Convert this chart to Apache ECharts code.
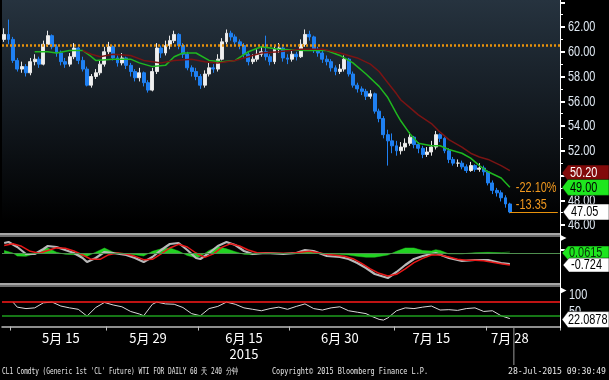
<!DOCTYPE html>
<html><head><meta charset="utf-8">
<script src="https://cdn.jsdelivr.net/npm/echarts@6/dist/echarts.min.js"></script>
<style>html,body{margin:0;padding:0;background:#000;}#c{width:609px;height:380px;}</style>
</head><body><div id="c"></div>
<script>
// ---------- DATA ----------
const SLOT_COUNT = 128; // half-day slots on the time axis
const dateLabels = ['5月 15','5月 29','6月 15','6月 30','7月 15','7月 28'];
const dateLabelSlots = [13,33,55,77,98,116];
const periodTickSlots = [2,24,45,66,90,111];
const yearLabel = '2015';
const yearSlot = 55;
const priceTickLabels = [46,48,50,52,54,56,58,60,62];

const firstOpen = 61.0;
const closes = [61.4,61.0,59.3,58.6,58.8,58.3,59.2,59.4,59.0,60.6,
 61.3,60.4,59.9,59.2,59.0,59.6,60.3,59.3,58.6,57.3,
 58.0,58.3,59.0,60.0,60.4,59.5,59.1,59.5,58.9,58.4,
 57.9,58.3,57.5,56.9,58.4,60.3,59.9,60.5,60.9,61.4,
 60.5,59.8,58.7,58.4,58.0,57.3,58.2,58.7,58.6,59.4,
 60.8,61.5,61.2,60.8,60.5,59.8,59.2,59.4,59.8,60.0,
 59.6,59.2,60.2,60.3,59.5,59.4,59.8,59.6,60.6,61.4,
 61.2,60.2,59.9,59.4,59.2,58.7,58.4,58.6,59.4,58.2,
 57.3,57.0,56.8,56.4,56.6,55.2,54.6,53.3,52.8,52.4,
 52.0,52.3,52.6,53.1,52.5,52.2,51.7,51.9,52.3,53.3,
 53.0,52.0,51.3,51.0,51.0,50.7,50.4,50.8,50.5,50.6,
 50.3,49.4,48.8,48.6,48.2,47.7,47.05];
const highs = [61.9,62.6,61.2,59.5,59.2,59.0,59.5,59.8,59.6,60.9,
 61.7,61.4,60.6,60.1,59.5,59.9,60.7,60.4,59.6,58.8,
 58.2,58.6,59.3,60.4,60.8,60.5,59.7,59.9,59.6,59.1,
 58.6,58.7,58.4,57.7,58.7,60.7,60.5,60.9,61.3,61.7,
 61.5,60.7,60.0,58.9,58.7,58.2,58.5,59.1,59.0,59.8,
 61.1,61.8,61.7,61.4,61.0,60.7,60.0,59.8,60.2,60.4,
 61.3,59.8,60.5,60.7,60.4,59.8,60.1,60.0,61.0,61.8,
 61.7,61.3,60.4,60.1,59.7,59.4,58.9,59.0,59.7,59.5,
 58.4,57.5,57.2,57.0,56.9,56.7,55.4,54.8,53.7,53.4,
 52.8,52.7,53.0,53.5,53.2,52.7,52.4,52.3,52.8,53.6,
 53.4,53.1,52.2,51.5,51.3,51.2,50.9,51.1,50.9,51.0,
 50.8,50.4,49.6,49.0,48.8,48.4,47.8];
const lows = [60.8,60.6,59.1,58.4,58.3,58.0,58.1,58.9,58.7,58.9,
 60.4,60.2,59.6,58.9,58.7,58.8,59.4,59.0,58.4,57.2,
 57.1,57.8,58.1,58.8,59.8,59.3,58.8,58.9,58.6,58.0,
 57.6,57.6,57.2,56.7,56.8,58.2,59.5,59.7,60.2,60.7,
 60.2,59.5,58.5,58.0,57.7,57.0,57.1,58.0,58.3,58.4,
 59.3,60.6,60.9,60.5,60.2,59.5,58.9,59.0,59.2,59.6,
 59.3,58.9,59.0,59.9,59.2,59.0,59.2,59.3,59.5,60.4,
 60.9,59.9,59.6,59.1,58.9,58.4,58.1,58.2,58.4,58.0,
 57.1,56.7,56.5,56.1,56.2,55.0,54.3,53.0,50.8,51.8,
 51.6,51.7,52.0,52.4,52.2,51.8,51.4,51.5,51.6,52.1,
 52.7,51.8,51.0,50.8,50.7,50.5,50.2,50.3,50.3,50.3,
 50.0,49.2,48.5,48.3,47.9,47.4,46.95];

// moving averages: [slot, value]
const maShort = [[7,60.0],[10,60.0],[12,59.9],[15,60.1],[18,60.1],[20,59.6],[21,59.3],[25,59.4],[29,59.4],[31,59.1],[34,58.8],[37,58.9],[39,59.6],[41,59.9],[44,59.9],[47,59.3],[50,59.2],[53,59.3],[56,60.0],[59,60.4],[63,60.2],[69,60.1],[74,60.1],[77,59.7],[80,59.1],[83,58.2],[86,57.2],[88,56.3],[90,55.0],[91,54.4],[93,53.4],[95,52.6],[98,52.4],[100,52.4],[102,52.1],[105,51.8],[107,51.4],[109,50.8],[111,50.3],[114,49.8],[116,49.05]];
const maLong = [[18,60.1],[20,59.8],[22,59.6],[25,59.8],[29,59.7],[32,59.3],[36,59.1],[39,59.3],[43,59.4],[46,59.2],[49,59.1],[53,59.3],[56,59.6],[59,59.9],[63,60.0],[68,60.2],[73,60.2],[77,59.9],[81,59.5],[84,59.0],[86,58.4],[88,57.5],[90,56.6],[91,56.1],[93,55.5],[95,54.9],[98,54.2],[100,53.5],[102,52.9],[105,52.3],[107,51.8],[109,51.5],[111,51.3],[114,50.8],[116,50.4]];
const refLevel = 60.54;

// MACD panel: [slot, value]
const macdLine = [[0,0.60],[1,0.66],[3,0.36],[5,-0.06],[7,-0.06],[9,0.24],[10,0.42],[12,0.36],[14,0.18],[16,0.0],[18,-0.30],[19,-0.54],[21,-0.30],[23,0.06],[25,0.0],[28,-0.12],[30,-0.30],[32,-0.54],[34,-0.24],[36,0.18],[38,0.54],[40,0.60],[42,0.18],[44,-0.30],[45,-0.36],[47,0.0],[49,0.42],[51,0.66],[53,0.48],[55,0.12],[57,-0.06],[60,0.0],[64,-0.06],[67,0.0],[69,0.18],[71,0.12],[74,-0.18],[77,-0.24],[79,-0.36],[81,-0.60],[83,-0.90],[85,-1.26],[88,-1.50],[90,-1.14],[92,-0.72],[94,-0.36],[96,-0.18],[99,0.0],[102,-0.30],[105,-0.48],[108,-0.42],[111,-0.42],[114,-0.60],[116,-0.66]];
const signalLine = [[0,0.45],[2,0.55],[4,0.40],[6,0.10],[8,-0.02],[10,0.15],[12,0.32],[14,0.28],[16,0.12],[18,-0.12],[20,-0.38],[22,-0.38],[24,-0.10],[26,0.0],[28,-0.06],[30,-0.20],[32,-0.40],[34,-0.38],[36,-0.05],[38,0.30],[40,0.52],[42,0.36],[44,0.0],[46,-0.26],[48,-0.05],[50,0.35],[52,0.56],[54,0.42],[56,0.18],[58,0.02],[62,-0.02],[66,-0.02],[70,0.10],[74,-0.08],[78,-0.20],[80,-0.34],[82,-0.62],[84,-0.95],[86,-1.22],[88,-1.38],[90,-1.28],[92,-0.95],[94,-0.58],[96,-0.32],[98,-0.12],[100,-0.12],[102,-0.24],[104,-0.38],[106,-0.44],[108,-0.44],[110,-0.46],[112,-0.55],[114,-0.64],[116,-0.724]];
const macdHist = [[0,0.15],[2,0.0],[3,-0.18],[5,-0.20],[7,-0.05],[9,0.25],[10,0.30],[12,0.05],[14,-0.08],[16,-0.10],[18,-0.18],[19,-0.20],[21,0.05],[23,0.30],[25,0.05],[28,-0.05],[30,-0.10],[32,-0.18],[34,0.10],[36,0.25],[38,0.30],[40,0.12],[42,-0.15],[44,-0.28],[45,-0.20],[47,0.15],[49,0.38],[51,0.25],[53,0.08],[55,-0.08],[57,-0.10],[60,0.02],[64,-0.03],[67,0.02],[69,0.10],[71,0.05],[74,-0.06],[77,-0.08],[79,-0.12],[81,-0.20],[83,-0.25],[85,-0.25],[88,-0.12],[90,0.10],[92,0.30],[94,0.30],[96,0.15],[98,0.12],[99,0.20],[100,0.15],[102,-0.05],[105,-0.05],[108,0.02],[111,0.04],[114,0.02],[116,0.06]];

// RSI panel: [slot, value]
const rsiLine = [[2,68],[3,54],[5,50],[7,52],[9,66],[11,68],[13,57],[15,52],[17,48],[19,29],[21,53],[23,67],[25,60],[27,55],[29,42],[31,35],[32,30],[34,62],[35,68],[37,63],[39,62],[41,53],[43,36],[45,30],[47,50],[49,56],[51,68],[53,62],[55,52],[57,48],[59,44],[61,50],[63,54],[65,48],[67,56],[69,63],[71,50],[73,46],[75,52],[77,55],[79,44],[81,40],[83,36],[84,30],[86,20],[87,18],[88,24],[90,44],[92,52],[94,50],[96,54],[98,57],[100,46],[102,47],[104,45],[106,50],[108,52],[110,42],[112,44],[114,30],[116,22.09]];
const rsiUpper = 70, rsiLower = 30;

// value boxes at the right
const lastPrice = 47.05, maLongLabel = 50.20, maShortLabel = 49.00;
const pctChange = '-22.10%', netChange = '-13.35';
const histLabel = '0.0615', macdLabel = -0.724;
const rsiLabel = '22.0878', rsiLast = 22.09;
const footerLeft = "CL1 Comdty (Generic 1st 'CL' Future) WTI FOR DAILY 60 天 240 分钟";
const footerMid = 'Copyright© 2015 Bloomberg Finance L.P.';
const footerRight = '28-Jul-2015 09:30:49';

// ---------- CHART ----------
const cats = Array.from({length: SLOT_COUNT}, (_, i) => String(i));
const SANS = '"Liberation Sans",Arial,sans-serif';
const NX = 0.78; // horizontal squeeze for the narrow Bloomberg digits
const candleData = closes.map((c, i) => [i === 0 ? firstOpen : closes[i - 1], c, lows[i], highs[i]]);

const chart = echarts.init(document.getElementById('c'));
const hidden = {show:false};
const option = {
  backgroundColor: '#000',
  animation: false,
  grid: [
    {left: 2, right: 49, top: 2.25, height: 247.5},
    {left: 2, right: 49, top: 237, height: 46},
    {left: 2, right: 49, top: 287, height: 41}
  ],
  xAxis: [
    {type:'category', gridIndex:0, data:cats, boundaryGap:true, axisLine:hidden, axisTick:hidden, axisLabel:hidden, splitLine:hidden},
    {type:'category', gridIndex:1, data:cats, boundaryGap:true, axisLine:hidden, axisTick:hidden, axisLabel:hidden, splitLine:hidden},
    {type:'category', gridIndex:2, data:cats, boundaryGap:true,
      axisLine:{show:true, lineStyle:{color:'#bdbdbd', width:1.5}},
      axisTick:{show:true, length:4, interval:(i) => periodTickSlots.includes(i), lineStyle:{color:'#bdbdbd'}},
      axisLabel:{show:true, interval:(i) => dateLabelSlots.includes(i),
        formatter:(v) => { const k = dateLabelSlots.indexOf(Number(v)); return k >= 0 ? dateLabels[k] : ''; },
        color:'#ffffff', fontSize:13, fontFamily:'"Noto Sans CJK SC",sans-serif', margin:4},
      splitLine:hidden}
  ],
  yAxis: [
    {type:'value', gridIndex:0, position:'right', min:44, max:64, interval:2,
      axisLine:hidden, splitLine:hidden, axisLabel:hidden,
      axisTick:{show:true, length:5, lineStyle:{color:'#ffffff', width:2}},
      minorTick:{show:true, splitNumber:2, length:3, lineStyle:{color:'#ffffff'}}},
    {type:'value', gridIndex:1, position:'right', min:-1.8, max:0.96,
      axisLine:hidden, axisTick:hidden, axisLabel:hidden, splitLine:hidden},
    {type:'value', gridIndex:2, position:'right', min:-4, max:110,
      axisLine:hidden, axisTick:hidden, axisLabel:hidden, splitLine:hidden}
  ],
  series: [
    {type:'candlestick', xAxisIndex:0, yAxisIndex:0, data:candleData, barWidth:3.4,
      itemStyle:{color:'#f0f0f0', color0:'#1f80f2', borderColor:'#e6e6e6', borderColor0:'#1f80f2', borderWidth:1},
      markLine:{silent:true, symbol:'none', label:hidden, animation:false,
        data:[
          {yAxis: refLevel, lineStyle:{color:'#e8920c', width:2.5, type:[2,2]}},
          [{coord:[String(closes.length - 1), lastPrice], lineStyle:{color:'#e8920c', width:1, type:'solid'}},
           {coord:[String(SLOT_COUNT - 1), lastPrice]}]
        ]}},
    {type:'line', xAxisIndex:0, yAxisIndex:0, data:maShort, showSymbol:false, lineStyle:{color:'#1fb81f', width:1.5}, z:3},
    {type:'line', xAxisIndex:0, yAxisIndex:0, data:maLong, showSymbol:false, lineStyle:{color:'#7a1414', width:1.5}, z:3},
    {type:'line', xAxisIndex:1, yAxisIndex:1, data:macdHist, showSymbol:false,
      lineStyle:{color:'#22cc22', width:0.5}, areaStyle:{color:'#22d222', opacity:1},
      markLine:{silent:true, symbol:'none', label:hidden, data:[{yAxis:0}], lineStyle:{color:'#4f8f4f', width:1, type:'solid'}}},
    {type:'line', xAxisIndex:1, yAxisIndex:1, data:macdLine, showSymbol:false, lineStyle:{color:'#b8b8b8', width:2.2}},
    {type:'line', xAxisIndex:1, yAxisIndex:1, data:signalLine, showSymbol:false, lineStyle:{color:'#e81818', width:1.5}},
    {type:'line', xAxisIndex:2, yAxisIndex:2, data:rsiLine, showSymbol:false, lineStyle:{color:'#d8d8d8', width:1},
      markLine:{silent:true, symbol:'none', label:hidden, data:[
        {yAxis:rsiUpper, lineStyle:{color:'#ff1a1a', width:1.5, type:'solid'}},
        {yAxis:rsiLower, lineStyle:{color:'#1e9e1e', width:1.5, type:'solid'}}]}}
  ]
};
chart.setOption(option);

// ---------- overlays placed through the chart's own scales ----------
const yp = (ai, v) => chart.convertToPixel({yAxisIndex: ai}, v);
const xp = (slot) => chart.convertToPixel({xAxisIndex: 2}, String(slot));
const W = 609, AX = 560.5;
const mctx = document.createElement('canvas').getContext('2d');
function measure(text, font) { mctx.font = font; return mctx.measureText(text).width; }
function txt(x, y, text, color, font, opts) {
  opts = opts || {};
  let sx = opts.sx || 1;
  if (opts.width) sx = opts.width / measure(text, font);
  const align = opts.align || 'left';
  return {type:'text', z:opts.z || 100, x:x, y:y, scaleX:sx,
    style:{text:text, fill:color, font:font, align:align, verticalAlign:'middle', textAlign:align, textVerticalAlign:'middle'}};
}
function valueBox(yc, text, fill, txtColor, x0, h, pad) {
  h = h || 8;
  pad = pad || 8;
  return {type:'group', z:100, children:[
    {type:'polygon', z:100, shape:{points:[[x0, yc],[x0 + 6, yc - h],[W, yc - h],[W, yc + h],[x0 + 6, yc + h]]}, style:{fill:fill, stroke:'#000', lineWidth:0.5}},
    txt(x0 + pad, yc + 0.5, text, txtColor, '14px ' + SANS, {sx:NX, z:101})
  ]};
}
const mainBottom = 233;
const gfx = [
  {type:'rect', z:-1, shape:{x:2, y:0, width:AX - 2, height:mainBottom},
    style:{fill:new echarts.graphic.LinearGradient(0, 0, 0, 1, [
      {offset:0, color:'#26333f'}, {offset:0.45, color:'#141b22'}, {offset:0.95, color:'#000000'}, {offset:1, color:'#000000'}])}},
  {type:'rect', z:50, shape:{x:0, y:mainBottom, width:AX, height:2}, style:{fill:'#a6a6a6'}},
  {type:'rect', z:50, shape:{x:0, y:mainBottom + 2, width:AX, height:2}, style:{fill:'#6e6e6e'}},
  {type:'rect', z:50, shape:{x:0, y:283, width:AX, height:2}, style:{fill:'#a6a6a6'}},
  {type:'rect', z:50, shape:{x:0, y:285, width:AX, height:2}, style:{fill:'#6e6e6e'}},
  {type:'line', z:60, shape:{x1:AX, y1:0, x2:AX, y2:328}, style:{stroke:'#ffffff', lineWidth:1}}
];
priceTickLabels.forEach(v => gfx.push(txt(568, yp(0, v) + 0.5, v.toFixed(2), '#dfe8f2', '14px ' + SANS, {sx:NX})));
gfx.push(
  valueBox(yp(0, maLongLabel), maLongLabel.toFixed(2), '#820a0a', '#ffffff', 562),
  valueBox(yp(0, maShortLabel) - 0.5, maShortLabel.toFixed(2), '#1ee61e', '#000000', 562),
  valueBox(yp(0, lastPrice), lastPrice.toFixed(2), '#ffffff', '#000000', 563),
  txt(xp(closes.length - 1) + 6, yp(0, maShortLabel), pctChange, '#f0981e', '14px ' + SANS, {sx:NX}),
  txt(xp(closes.length - 1) + 6, yp(0, lastPrice) - 7, netChange, '#f0981e', '14px ' + SANS, {sx:NX}),
  valueBox(yp(1, 0), histLabel, '#1ee61e', '#0a300a', 562, 7, 7),
  valueBox(yp(1, macdLabel), macdLabel.toFixed(3), '#ffffff', '#000000', 563, 7),
  txt(569, yp(2, 100) + 5, '100', '#dfe8f2', '14px ' + SANS, {sx:NX}),
  txt(569, yp(2, 50) + 4, '50', '#dfe8f2', '14px ' + SANS, {sx:NX}),
  {type:'polygon', z:60, shape:{points:[[AX, yp(2, 100) - 3],[AX + 6, yp(2, 100)],[AX, yp(2, 100) + 3]]}, style:{fill:'#fff'}},
  {type:'polygon', z:60, shape:{points:[[AX, 235],[AX + 6, 238],[AX, 241]]}, style:{fill:'#fff'}},
  valueBox(yp(2, rsiLast) + 1, rsiLabel, '#ffffff', '#000000', 562, 8, 6),
  txt(xp(yearSlot), 354, yearLabel, '#ffffff', '13px "Noto Sans CJK SC",sans-serif', {align:'center'}),
  {type:'line', z:60, shape:{x1:xp(closes.length - 1) + 4, y1:328, x2:xp(closes.length - 1) + 4, y2:365}, style:{stroke:'#9a9a9a', lineWidth:1}},
  txt(2, 372, footerLeft, '#e8e8e8', '9px "DejaVu Sans Mono",monospace', {width:236}),
  txt(272, 372, footerMid, '#e8e8e8', '9px "DejaVu Sans Mono",monospace', {width:156}),
  txt(508, 372, footerRight, '#e8e8e8', '9px "DejaVu Sans Mono",monospace', {width:98})
);
chart.setOption({graphic: {elements: gfx}});
</script>
</body></html>
